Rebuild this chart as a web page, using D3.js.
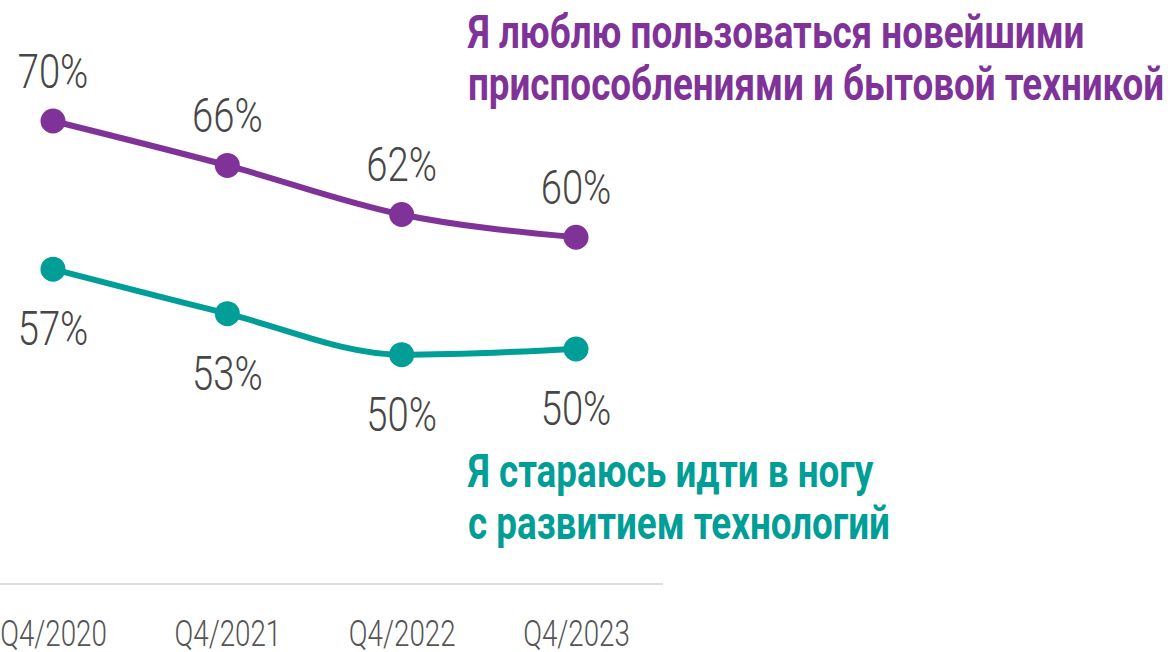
<!DOCTYPE html>
<html>
<head>
<meta charset="utf-8">
<script src="https://cdn.jsdelivr.net/npm/d3@7"></script>
<style>
	html, body { margin: 0; padding: 0; background: #fff; }
	#graphic { width: 1173px; height: 652px; overflow: hidden; }
	text { font-family: Roboto, "Noto Sans", sans-serif; }
	.value-label { font-weight: 300; fill: #474747; }
	.x.axis text { font-weight: 300; fill: #555; }
	.series-title { font-weight: 700; }
</style>
</head>
<body>
<div id="graphic"></div>
<script>
// data
const periods = ['Q4/2020', 'Q4/2021', 'Q4/2022', 'Q4/2023'];
const gadgetsValues = [70.0, 66.1, 61.8, 59.8];
const techValues = [57.0, 53.1, 49.5, 50.0];
const gadgetsTitle = ['Я люблю пользоваться новейшими', 'приспособлениями и бытовой техникой'];
const techTitle = ['Я стараюсь идти в ногу', 'с развитием технологий'];

const width = 1173, height = 652;
const purple = '#7f3399';
const teal = '#009e96';
// the original face is condensed, so Roboto gets squashed horizontally
const labelSqueeze = 0.78;
const tickSqueeze = 0.75;
const titleSqueeze = 0.80;

const svg = d3.select('#graphic')
	.append('svg')
	.attr('width', width)
	.attr('height', height);

const x = d3.scalePoint()
	.domain(periods)
	.range([53, 576]);

const y = d3.scaleLinear()
	.domain([50, 70])
	.range([349, 121]);

// baseline under the chart
svg.append('line')
	.attr('x1', 0)
	.attr('x2', 663)
	.attr('y1', 584)
	.attr('y2', 584)
	.attr('stroke', '#dddddd')
	.attr('stroke-width', 2);

// x axis labels only
const xAxis = svg.append('g')
	.attr('class', 'x axis')
	.attr('transform', 'translate(0, 620)')
	.call(d3.axisBottom(x).tickSize(0).tickPadding(0));
xAxis.select('.domain').remove();
xAxis.selectAll('text')
	.attr('font-size', 37)
	.attr('dy', '0.71em')
	.attr('font-family', 'Roboto, sans-serif')
	.attr('transform', `scale(${tickSqueeze},1)`);

function drawSeries(values, colour, labelOffset) {
	const data = periods.map((p, i) => ({ period: p, value: values[i] }));

	const lineGenerator = d3.line()
		.x(d => x(d.period))
		.y(d => y(d.value))
		.curve(d3.curveMonotoneX);

	svg.append('path')
		.datum(data)
		.attr('fill', 'none')
		.attr('stroke', colour)
		.attr('stroke-width', 6)
		.attr('d', lineGenerator)
		.style('stroke-linejoin', 'round')
		.style('stroke-linecap', 'round');

	svg.selectAll(null)
		.data(data)
		.enter()
		.append('circle')
		.attr('cx', d => x(d.period))
		.attr('cy', d => y(d.value))
		.attr('r', 12.5)
		.attr('fill', colour);

	svg.selectAll(null)
		.data(data)
		.enter()
		.append('g')
		.attr('transform', d => `translate(${x(d.period)}, ${y(d.value) + labelOffset}) scale(${labelSqueeze},1)`)
		.append('text')
		.attr('class', 'value-label')
		.attr('text-anchor', 'middle')
		.attr('font-size', 49)
		.text(d => Math.round(d.value) + '%');
}

drawSeries(gadgetsValues, purple, -33);
drawSeries(techValues, teal, 76);

function addTitle(lines, colour, left, top) {
	const g = svg.append('g')
		.attr('transform', `translate(${left}, ${top}) scale(${titleSqueeze},1)`);
	g.selectAll('text')
		.data(lines)
		.enter()
		.append('text')
		.attr('class', 'series-title')
		.attr('y', (d, i) => i * 52)
		.attr('font-size', 46)
		.attr('fill', colour)
		.text(d => d);
}

addTitle(gadgetsTitle, purple, 468, 48);
addTitle(techTitle, teal, 468, 487);
</script>
</body>
</html>
